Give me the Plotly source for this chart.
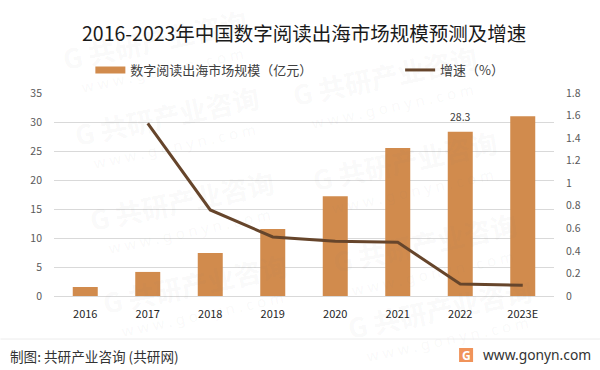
import plotly.graph_objects as go

categories = ["2016", "2017", "2018", "2019", "2020", "2021", "2022", "2023E"]
market_size = [1.55, 4.15, 7.4, 11.55, 17.2, 25.5, 28.3, 31.0]
growth = [None, 1.53, 0.763, 0.524, 0.485, 0.476, 0.107, 0.095]
labelled_category = "2022"
labelled_value = 28.3
left_ticks = [0, 5, 10, 15, 20, 25, 30, 35]
right_ticks = [0, 0.2, 0.4, 0.6, 0.8, 1, 1.2, 1.4, 1.6, 1.8]
right_tick_labels = ["0", "0.2", "0.4", "0.6", "0.8", "1", "1.2", "1.4", "1.6", "1.8"]
watermark_centres = [(155, 39), (167, 115), (182, 200), (195, 283),
                     (385, 75), (405, 160), (425, 242), (440, 308)]

W, H = 600, 370
L, R, T, B = 53.6, 554, 93, 296
CJK = "Noto Sans CJK SC"
BAR = "#d18b4d"
LINE = "#66452b"
WATERMARK = "rgba(120,120,120,0.05)"


def px(x):
    return (x - L) / (R - L)


def py(y):
    return (B - y) / (B - T)


fig = go.Figure()
fig.add_bar(
    x=categories, y=market_size, name="数字阅读出海市场规模（亿元）", showlegend=False,
    marker=dict(color=BAR, line=dict(width=0)), yaxis="y",
)
# legend-only entry: gives the wide flat swatch the reference uses for the bars
fig.add_scatter(
    x=[None], y=[None], name="数字阅读出海市场规模（亿元）", mode="lines", yaxis="y", legend="legend",
    line=dict(color=BAR, width=7),
)
fig.add_scatter(
    x=categories, y=growth, name="增速（%）", mode="lines", yaxis="y2", legend="legend2",
    line=dict(color=LINE, width=3), connectgaps=False,
)

annotations = [
    dict(text="2016-2023年中国数字阅读出海市场规模预测及增速", x=px(304), y=py(32),
         font=dict(family=CJK, size=19.5, color="#1a1a1a")),
    dict(text="制图: 共研产业咨询 (共研网)", x=px(8), y=py(356), xanchor="left",
         font=dict(family=CJK, size=13.6, color="#333333")),
    dict(text="www.gonyn.com", x=px(593), y=py(354), xanchor="right",
         font=dict(family="Noto Sans", size=13.8, color="#333333")),
    dict(text="<b>G</b>", x=px(466), y=py(355),
         font=dict(family="Noto Sans", size=12, color="white")),
]
for cx, cy in watermark_centres:
    annotations.append(dict(text="<b>G 共研产业咨询</b>", x=px(cx), y=py(cy), textangle=-12,
                            font=dict(family=CJK, size=27, color=WATERMARK)))
    annotations.append(dict(text="w w w . g o n y n . c o m", x=px(cx + 7), y=py(cy + 31), textangle=-12,
                            font=dict(family="Noto Sans", size=15, color=WATERMARK)))
for a in annotations:
    a.update(xref="paper", yref="paper", showarrow=False)
    a.setdefault("xanchor", "center")
    a.setdefault("yanchor", "middle")
annotations.append(dict(x=categories.index(labelled_category), y=labelled_value, xref="x", yref="y",
                        text=str(labelled_value), showarrow=False, yanchor="bottom", yshift=6,
                        font=dict(family=CJK, size=10.5, color="#404040")))

shapes = [
    dict(type="line", xref="paper", yref="paper", x0=px(0), x1=px(600), y0=py(339), y1=py(339),
         line=dict(color="#ececec", width=1)),
    dict(type="rect", xref="paper", yref="paper", x0=px(459), x1=px(473), y0=py(348), y1=py(362),
         fillcolor="#f0935a", line=dict(width=0)),
]

legend_font = dict(family=CJK, size=13, color="#404040")
fig.update_layout(
    width=W, height=H, autosize=False,
    margin=dict(l=L, r=W - R, t=T, b=H - B, pad=0),
    paper_bgcolor="white", plot_bgcolor="rgba(0,0,0,0)",
    bargap=0.6, showlegend=True,
    font=dict(family=CJK, size=11, color="#595959"),
    legend=dict(orientation="h", x=px(90), y=py(70), xanchor="left", yanchor="middle",
                font=legend_font, bgcolor="rgba(0,0,0,0)", itemwidth=30),
    legend2=dict(orientation="h", x=px(400), y=py(70), xanchor="left", yanchor="middle",
                 font=legend_font, bgcolor="rgba(0,0,0,0)", itemwidth=30),
    xaxis=dict(type="category", categoryorder="array", categoryarray=categories,
               range=[-0.5, len(categories) - 0.5],
               showgrid=False, showline=True, linecolor="#d9d9d9", linewidth=1, ticks="",
               ticklabelstandoff=8,
               tickfont=dict(family=CJK, size=11, color="#262626")),
    yaxis=dict(range=[0, 35], tickvals=left_ticks, showgrid=True, gridcolor="#d9d9d9", gridwidth=1,
               zeroline=False, showline=False, ticks="", ticklabelstandoff=11,
               tickfont=dict(family=CJK, size=10.5, color="#595959")),
    yaxis2=dict(range=[0, 1.8], tickvals=right_ticks, ticktext=right_tick_labels, overlaying="y", side="right",
                showgrid=False, zeroline=False, showline=False, ticks="", ticklabelstandoff=11,
                tickfont=dict(family=CJK, size=10.5, color="#595959")),
    annotations=annotations, shapes=shapes,
)
fig.write_html("out.html", config=dict(displayModeBar=False),
               post_script="document.body.style.margin='0';document.body.style.overflow='hidden';")
